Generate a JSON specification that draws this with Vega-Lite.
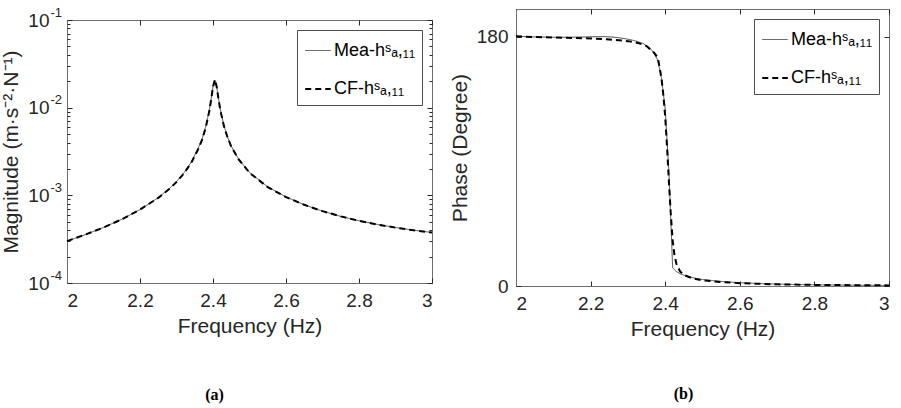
{
  "$schema": "https://vega.github.io/schema/vega-lite/v6.json",
  "padding": {"left": 0, "top": 5, "right": 3, "bottom": 5},
  "background": "white",
  "datasets": {
    "mag": [
      {"s":"Mea","f":2.00,"m":3.00e-4},{"s":"Mea","f":2.05,"m":3.56e-4},{"s":"Mea","f":2.10,"m":4.30e-4},{"s":"Mea","f":2.15,"m":5.33e-4},{"s":"Mea","f":2.20,"m":6.87e-4},{"s":"Mea","f":2.25,"m":9.40e-4},{"s":"Mea","f":2.28,"m":1.19e-3},{"s":"Mea","f":2.30,"m":1.435e-3},{"s":"Mea","f":2.32,"m":1.80e-3},{"s":"Mea","f":2.34,"m":2.38e-3},{"s":"Mea","f":2.36,"m":3.48e-3},{"s":"Mea","f":2.37,"m":4.40e-3},{"s":"Mea","f":2.38,"m":6.06e-3},{"s":"Mea","f":2.39,"m":9.46e-3},{"s":"Mea","f":2.395,"m":1.264e-2},{"s":"Mea","f":2.40,"m":1.74e-2},{"s":"Mea","f":2.405,"m":2.07e-2},{"s":"Mea","f":2.41,"m":1.75e-2},{"s":"Mea","f":2.415,"m":1.28e-2},{"s":"Mea","f":2.42,"m":9.62e-3},{"s":"Mea","f":2.43,"m":6.25e-3},{"s":"Mea","f":2.44,"m":4.59e-3},{"s":"Mea","f":2.45,"m":3.63e-3},{"s":"Mea","f":2.47,"m":2.60e-3},{"s":"Mea","f":2.50,"m":1.82e-3},{"s":"Mea","f":2.55,"m":1.25e-3},{"s":"Mea","f":2.60,"m":9.6e-4},{"s":"Mea","f":2.65,"m":7.8e-4},{"s":"Mea","f":2.70,"m":6.6e-4},{"s":"Mea","f":2.75,"m":5.75e-4},{"s":"Mea","f":2.80,"m":5.13e-4},{"s":"Mea","f":2.85,"m":4.66e-4},{"s":"Mea","f":2.90,"m":4.29e-4},{"s":"Mea","f":2.95,"m":4.00e-4},{"s":"Mea","f":3.00,"m":3.77e-4},
      {"s":"CF","f":2.00,"m":3.00e-4},{"s":"CF","f":2.05,"m":3.56e-4},{"s":"CF","f":2.10,"m":4.30e-4},{"s":"CF","f":2.15,"m":5.33e-4},{"s":"CF","f":2.20,"m":6.87e-4},{"s":"CF","f":2.25,"m":9.35e-4},{"s":"CF","f":2.28,"m":1.18e-3},{"s":"CF","f":2.30,"m":1.42e-3},{"s":"CF","f":2.32,"m":1.77e-3},{"s":"CF","f":2.34,"m":2.33e-3},{"s":"CF","f":2.36,"m":3.40e-3},{"s":"CF","f":2.37,"m":4.30e-3},{"s":"CF","f":2.38,"m":5.90e-3},{"s":"CF","f":2.39,"m":9.20e-3},{"s":"CF","f":2.395,"m":1.24e-2},{"s":"CF","f":2.40,"m":1.72e-2},{"s":"CF","f":2.405,"m":2.09e-2},{"s":"CF","f":2.41,"m":1.74e-2},{"s":"CF","f":2.415,"m":1.26e-2},{"s":"CF","f":2.42,"m":9.40e-3},{"s":"CF","f":2.43,"m":6.15e-3},{"s":"CF","f":2.44,"m":4.55e-3},{"s":"CF","f":2.45,"m":3.60e-3},{"s":"CF","f":2.47,"m":2.58e-3},{"s":"CF","f":2.50,"m":1.81e-3},{"s":"CF","f":2.55,"m":1.24e-3},{"s":"CF","f":2.60,"m":9.55e-4},{"s":"CF","f":2.65,"m":7.8e-4},{"s":"CF","f":2.70,"m":6.6e-4},{"s":"CF","f":2.75,"m":5.75e-4},{"s":"CF","f":2.80,"m":5.12e-4},{"s":"CF","f":2.85,"m":4.65e-4},{"s":"CF","f":2.90,"m":4.28e-4},{"s":"CF","f":2.95,"m":3.99e-4},{"s":"CF","f":3.00,"m":3.76e-4}
    ],
    "phase": [
      {"s":"Mea","f":2.00,"p":180.4},{"s":"Mea","f":2.02,"p":180.1},{"s":"Mea","f":2.04,"p":179.9},{"s":"Mea","f":2.06,"p":179.8},{"s":"Mea","f":2.08,"p":179.7},{"s":"Mea","f":2.10,"p":179.6},{"s":"Mea","f":2.14,"p":179.6},{"s":"Mea","f":2.18,"p":179.8},{"s":"Mea","f":2.22,"p":180.0},{"s":"Mea","f":2.24,"p":180.0},{"s":"Mea","f":2.26,"p":179.7},{"s":"Mea","f":2.28,"p":179.1},{"s":"Mea","f":2.30,"p":178.2},{"s":"Mea","f":2.32,"p":177.0},{"s":"Mea","f":2.34,"p":175.2},{"s":"Mea","f":2.36,"p":171.5},{"s":"Mea","f":2.37,"p":168},{"s":"Mea","f":2.38,"p":163},{"s":"Mea","f":2.39,"p":150},{"s":"Mea","f":2.40,"p":128},{"s":"Mea","f":2.41,"p":82},{"s":"Mea","f":2.42,"p":13},{"s":"Mea","f":2.43,"p":10.5},{"s":"Mea","f":2.44,"p":8.8},{"s":"Mea","f":2.46,"p":6.9},{"s":"Mea","f":2.48,"p":5.6},{"s":"Mea","f":2.50,"p":4.7},{"s":"Mea","f":2.55,"p":3.3},{"s":"Mea","f":2.60,"p":2.4},{"s":"Mea","f":2.65,"p":1.8},{"s":"Mea","f":2.70,"p":1.4},{"s":"Mea","f":2.75,"p":1.1},{"s":"Mea","f":2.80,"p":0.9},{"s":"Mea","f":2.90,"p":0.6},{"s":"Mea","f":3.00,"p":0.4},
      {"s":"CF","f":2.00,"p":180.3},{"s":"CF","f":2.05,"p":179.8},{"s":"CF","f":2.10,"p":179.4},{"s":"CF","f":2.15,"p":179.1},{"s":"CF","f":2.20,"p":178.7},{"s":"CF","f":2.25,"p":178.0},{"s":"CF","f":2.30,"p":176.8},{"s":"CF","f":2.33,"p":175.3},{"s":"CF","f":2.35,"p":173.2},{"s":"CF","f":2.37,"p":168.5},{"s":"CF","f":2.38,"p":165},{"s":"CF","f":2.385,"p":158},{"s":"CF","f":2.39,"p":150},{"s":"CF","f":2.395,"p":138},{"s":"CF","f":2.40,"p":122},{"s":"CF","f":2.405,"p":100},{"s":"CF","f":2.41,"p":75},{"s":"CF","f":2.415,"p":52},{"s":"CF","f":2.42,"p":33},{"s":"CF","f":2.425,"p":22},{"s":"CF","f":2.43,"p":16},{"s":"CF","f":2.44,"p":10.5},{"s":"CF","f":2.45,"p":8.0},{"s":"CF","f":2.47,"p":5.8},{"s":"CF","f":2.50,"p":4.1},{"s":"CF","f":2.55,"p":2.9},{"s":"CF","f":2.60,"p":2.0},{"s":"CF","f":2.70,"p":1.2},{"s":"CF","f":2.80,"p":0.8},{"s":"CF","f":2.90,"p":0.6},{"s":"CF","f":3.00,"p":0.45}
    ]
  },
  "config": {
    "font": "Liberation Sans",
    "view": {"stroke": "#6e6e6e", "strokeWidth": 1},
    "axis": {
      "labelFont": "Liberation Sans", "labelFontSize": 19, "labelColor": "#262626",
      "titleFont": "Liberation Sans", "titleFontSize": 21, "titleFontWeight": "normal", "titleColor": "#262626",
      "domainColor": "#6e6e6e", "tickColor": "#262626", "grid": false, "tickSize": -5, "labelPadding": 13
    },
    "legend": {
      "orient": "top-right", "offset": 10, "strokeColor": "#4d4d4d", "fillColor": "white",
      "padding": 7, "labelFont": "Liberation Sans", "labelFontSize": 18, "labelColor": "#000",
      "symbolType": "stroke", "symbolSize": 650, "rowPadding": 15, "labelOffset": 2
    }
  },
  "spacing": 14,
  "hconcat": [
    {
      "spacing": -5,
      "vconcat": [
        {
          "width": 365, "height": 1,
          "view": {"stroke": null},
          "data": {"name": "mag"},
          "mark": {"type": "point", "opacity": 0, "size": 0},
          "encoding": {}
        },
        {
          "width": 365, "height": 263,
          "title": {"text": "(a)", "orient": "bottom", "font": "Liberation Serif", "fontSize": 16, "fontWeight": "bold", "color": "#000", "offset": 51, "dx": -35},
          "data": {"name": "mag"},
          "layer": [
            {
              "mark": {"type": "line", "strokeJoin": "round"},
              "encoding": {
                "x": {"field": "f", "type": "quantitative", "scale": {"domain": [2, 3], "nice": false}, "axis": {"values": [2, 2.2, 2.4, 2.6, 2.8, 3], "title": "Frequency (Hz)", "format": "~g", "titlePadding": 5}},
                "y": {"field": "m", "type": "quantitative", "scale": {"type": "log", "domain": [0.0001, 0.1], "nice": false}, "axis": {"values": [0.0001, 0.001, 0.01, 0.1], "labelExpr": "'10'", "labelPadding": 23, "title": "Magnitude (m·s⁻²·N⁻¹)", "titlePadding": 6}},
                "color": {"field": "s", "type": "nominal", "scale": {"domain": ["Mea", "CF"], "range": ["#4d4d4d", "#000000"]}, "legend": {"title": null, "labelExpr": "datum.label + '-hˢₐ,₁₁'"}},
                "strokeDash": {"field": "s", "type": "nominal", "scale": {"domain": ["Mea", "CF"], "range": [[1, 0], [6, 4]]}, "legend": {"title": null, "labelExpr": "datum.label + '-hˢₐ,₁₁'"}},
                "strokeWidth": {"field": "s", "type": "nominal", "scale": {"domain": ["Mea", "CF"], "range": [1, 2]}, "legend": {"title": null, "labelExpr": "datum.label + '-hˢₐ,₁₁'"}}
              }
            },
            {
              "mark": {"type": "line", "opacity": 0},
              "encoding": {
                "x": {"field": "f", "type": "quantitative", "axis": {"orient": "top", "values": [2, 2.2, 2.4, 2.6, 2.8, 3], "labels": false, "title": null, "domain": false}},
                "y": {"field": "m", "type": "quantitative", "axis": {"orient": "right", "values": [0.0001, 0.001, 0.01, 0.1], "labels": false, "title": null, "domain": false}},
                "detail": {"field": "s"}
              }
            },
            {
              "mark": {"type": "line", "opacity": 0},
              "encoding": {
                "x": {"field": "f", "type": "quantitative", "axis": null},
                "y": {"field": "m", "type": "quantitative", "axis": {"orient": "left", "values": [0.0001, 0.001, 0.01, 0.1], "ticks": false, "domain": false, "title": null, "labelExpr": "datum.value > 0.05 ? '-1' : datum.value > 0.005 ? '-2' : datum.value > 0.0005 ? '-3' : '-4'", "labelFontSize": 13, "labelAlign": "left", "labelPadding": 17, "labelOffset": -8}},
                "detail": {"field": "s"}
              }
            },
            {
              "mark": {"type": "line", "opacity": 0},
              "encoding": {
                "x": {"field": "f", "type": "quantitative", "axis": null},
                "y": {"field": "m", "type": "quantitative", "axis": {"orient": "left", "values": [0.0002,0.0003,0.0004,0.0005,0.0006,0.0007,0.0008,0.0009,0.002,0.003,0.004,0.005,0.006,0.007,0.008,0.009,0.02,0.03,0.04,0.05,0.06,0.07,0.08,0.09], "labels": false, "domain": false, "title": null, "tickSize": -3}},
                "detail": {"field": "s"}
              }
            },
            {
              "mark": {"type": "line", "opacity": 0},
              "encoding": {
                "x": {"field": "f", "type": "quantitative", "axis": null},
                "y": {"field": "m", "type": "quantitative", "axis": {"orient": "right", "values": [0.0002,0.0003,0.0004,0.0005,0.0006,0.0007,0.0008,0.0009,0.002,0.003,0.004,0.005,0.006,0.007,0.008,0.009,0.02,0.03,0.04,0.05,0.06,0.07,0.08,0.09], "labels": false, "domain": false, "title": null, "tickSize": -3}},
                "detail": {"field": "s"}
              }
            }
          ],
          "resolve": {"axis": {"x": "independent", "y": "independent"}}
        }
      ],
      "resolve": {
        "scale": {"color": "independent", "strokeDash": "independent", "strokeWidth": "independent"},
        "legend": {"color": "independent", "strokeDash": "independent", "strokeWidth": "independent"}
      }
    },
    {
      "width": 373, "height": 277,
      "title": {"text": "(b)", "orient": "bottom", "font": "Liberation Serif", "fontSize": 16, "fontWeight": "bold", "color": "#000", "offset": 47, "dx": -19},
      "data": {"name": "phase"},
      "layer": [
        {
          "mark": {"type": "line", "strokeJoin": "round"},
          "encoding": {
            "x": {"field": "f", "type": "quantitative", "scale": {"domain": [2, 3], "nice": false}, "axis": {"values": [2, 2.2, 2.4, 2.6, 2.8, 3], "title": "Frequency (Hz)", "format": "~g", "titlePadding": 5}},
            "y": {"field": "p", "type": "quantitative", "scale": {"domain": [0, 200], "nice": false}, "axis": {"values": [0, 180], "title": "Phase (Degree)", "titlePadding": 6, "labelPadding": 13}},
            "color": {"field": "s", "type": "nominal", "scale": {"domain": ["Mea", "CF"], "range": ["#4d4d4d", "#000000"]}, "legend": {"title": null, "labelExpr": "datum.label + '-hˢₐ,₁₁'"}},
            "strokeDash": {"field": "s", "type": "nominal", "scale": {"domain": ["Mea", "CF"], "range": [[1, 0], [6, 4]]}, "legend": {"title": null, "labelExpr": "datum.label + '-hˢₐ,₁₁'"}},
            "strokeWidth": {"field": "s", "type": "nominal", "scale": {"domain": ["Mea", "CF"], "range": [1, 2]}, "legend": {"title": null, "labelExpr": "datum.label + '-hˢₐ,₁₁'"}}
          }
        },
        {
          "mark": {"type": "line", "opacity": 0},
          "encoding": {
            "x": {"field": "f", "type": "quantitative", "axis": {"orient": "top", "values": [2, 2.2, 2.4, 2.6, 2.8, 3], "labels": false, "title": null, "domain": false}},
            "y": {"field": "p", "type": "quantitative", "axis": {"orient": "right", "values": [0, 180], "labels": false, "title": null, "domain": false}},
            "detail": {"field": "s"}
          }
        }
      ],
      "resolve": {"axis": {"x": "independent", "y": "independent"}}
    }
  ],
  "resolve": {
    "scale": {"color": "independent", "strokeDash": "independent", "strokeWidth": "independent"},
    "legend": {"color": "independent", "strokeDash": "independent", "strokeWidth": "independent"}
  }
}
